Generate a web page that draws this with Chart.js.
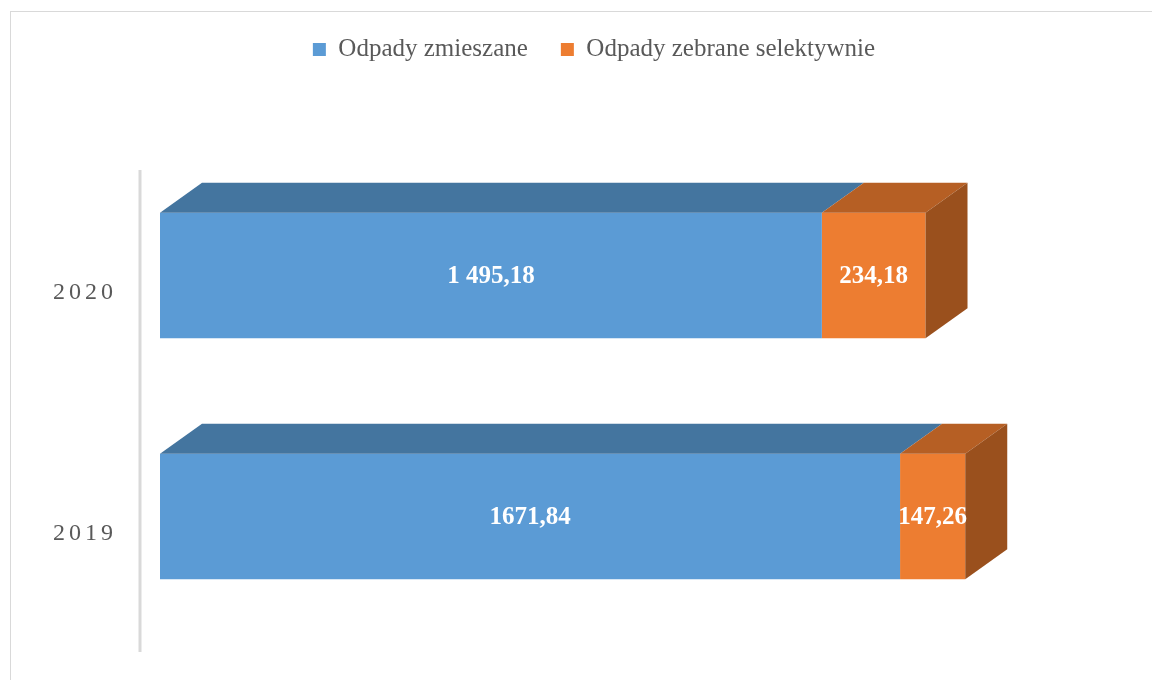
<!DOCTYPE html>
<html>
<head>
<meta charset="utf-8">
<script src="https://cdn.jsdelivr.net/npm/chart.js@4.4.1/dist/chart.umd.min.js"></script>
<style>
  html, body { margin: 0; padding: 0; background: #fff; overflow: hidden; }
  #wrap { position: relative; width: 1152px; height: 680px; }
  #frame { position: absolute; left: 10px; top: 11px; width: 1200px; height: 720px; border: 1px solid #d9d9d9; }
  canvas { position: absolute; left: 0; top: 0; }
</style>
</head>
<body>
<div id="wrap">
  <div id="frame"></div>
  <canvas id="bar" width="1152" height="680"></canvas>
</div>
<script>
const years = ['2020', '2019'];
const mixed = [1495.18, 1671.84];
const selective = [234.18, 147.26];
const mixedLabels = ['1 495,18', '1671,84'];
const selectiveLabels = ['234,18', '147,26'];

const serif = '"Liberation Serif", "DejaVu Serif", serif';
const dx = 42, dy = -30;
const faces = [
  { top: '#44759F', side: '#3E6A92' },
  { top: '#B65F24', side: '#9A501D' }
];
const valueLabels = [mixedLabels, selectiveLabels];

// top and side faces, axis line, value labels
const bar3d = {
  id: 'bar3d',
  beforeDraw(chart) {
    const s = chart.scales.y;
    if (!s._spaced) {
      const orig = s.drawLabels;
      s.drawLabels = function(area) {
        this.ctx.save();
        this.ctx.letterSpacing = '4px';
        orig.call(this, area);
        this.ctx.restore();
      };
      s._spaced = true;
    }
  },
  beforeDatasetsDraw(chart) {
    const { ctx, chartArea } = chart;
    ctx.save();
    ctx.strokeStyle = '#d9d9d9';
    ctx.lineWidth = 3;
    ctx.beginPath();
    ctx.moveTo(chartArea.left - 20, chartArea.top + 15);
    ctx.lineTo(chartArea.left - 20, chartArea.bottom + 15);
    ctx.stroke();
    ctx.restore();
  },
  afterDatasetsDraw(chart) {
    const ctx = chart.ctx;
    const n = chart.data.datasets.length;
    const poly = (pts, color) => {
      ctx.fillStyle = color;
      ctx.beginPath();
      ctx.moveTo(pts[0][0], pts[0][1]);
      pts.slice(1).forEach(p => ctx.lineTo(p[0], p[1]));
      ctx.closePath();
      ctx.fill();
    };
    ctx.save();
    chart.data.datasets.forEach((ds, di) => {
      chart.getDatasetMeta(di).data.forEach((bar, i) => {
        const p = bar.getProps(['x', 'y', 'base', 'height'], true);
        const l = Math.min(p.base, p.x), r = Math.max(p.base, p.x);
        const t = p.y - p.height / 2, b = p.y + p.height / 2;
        poly([[l, t], [l + dx, t + dy], [r + dx, t + dy], [r, t]], faces[di].top);
        if (di === n - 1) {
          poly([[r, t], [r + dx, t + dy], [r + dx, b + dy], [r, b]], faces[di].side);
        }
      });
    });
    ctx.fillStyle = '#fff';
    ctx.font = 'bold 25px ' + serif;
    ctx.textAlign = 'center';
    ctx.textBaseline = 'middle';
    chart.data.datasets.forEach((ds, di) => {
      chart.getDatasetMeta(di).data.forEach((bar, i) => {
        const p = bar.getProps(['x', 'y', 'base'], true);
        ctx.fillText(valueLabels[di][i], (p.x + p.base) / 2, p.y + 1);
      });
    });
    ctx.restore();
  }
};

new Chart(document.getElementById('bar'), {
  type: 'bar',
  data: {
    labels: years,
    datasets: [
      { label: 'Odpady zmieszane', data: mixed, backgroundColor: '#5B9BD5' },
      { label: 'Odpady zebrane selektywnie', data: selective, backgroundColor: '#ED7D31' }
    ]
  },
  options: {
    indexAxis: 'y',
    responsive: false,
    animation: false,
    layout: { padding: { left: 36, right: 0, top: 4, bottom: 43 } },
    datasets: { bar: { barPercentage: 0.52, categoryPercentage: 1 } },
    scales: {
      x: {
        stacked: true,
        position: 'top',
        min: 0,
        max: 2241,
        grid: { display: false },
        border: { display: false },
        ticks: { display: false },
        afterFit: s => { s.height = 83; }
      },
      y: {
        stacked: true,
        grid: { display: false },
        border: { display: false },
        ticks: {
          color: '#595959',
          font: { family: serif, size: 24 },
          labelOffset: 17,
          padding: 35
        },
        afterFit: s => {
          s.width = 124;
          s.paddingTop = 0;
          s.paddingBottom = 0;
        }
      }
    },
    plugins: {
      legend: {
        position: 'top',
        labels: {
          color: '#595959',
          font: { family: serif, size: 25 },
          boxWidth: 13,
          boxHeight: 13,
          padding: 33
        }
      },
      tooltip: { enabled: false }
    }
  },
  plugins: [bar3d]
});
</script>
</body>
</html>
